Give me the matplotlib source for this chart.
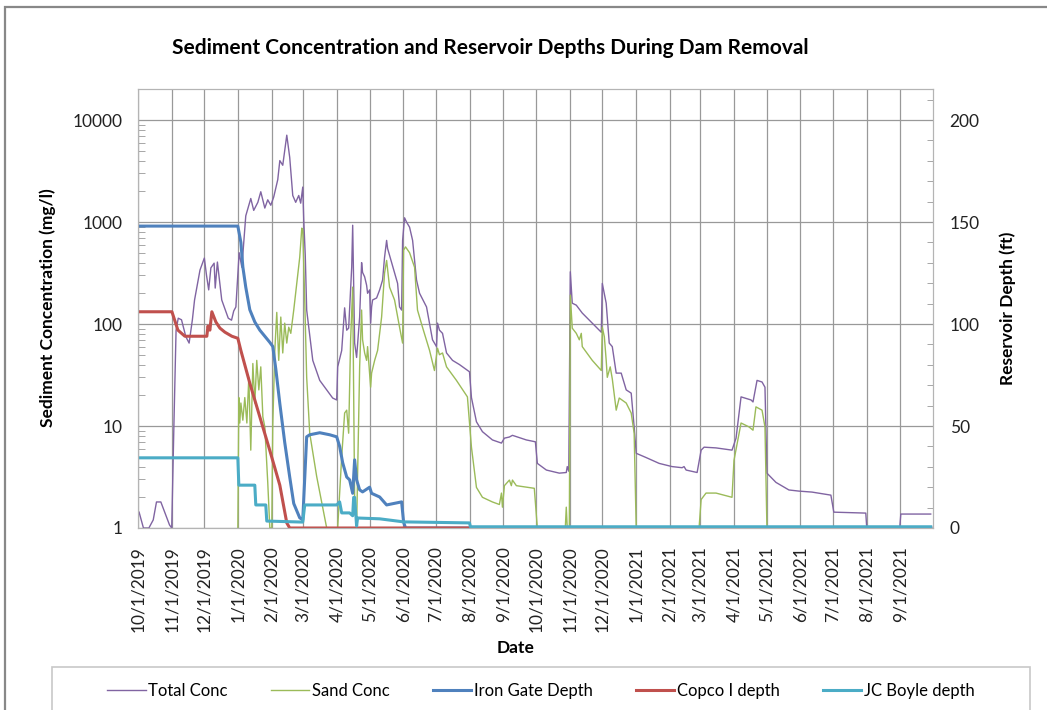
import numpy as np
import pandas as pd
import matplotlib
matplotlib.use('Agg')
import matplotlib.pyplot as plt
from matplotlib.patches import Rectangle
from matplotlib.ticker import FixedLocator, NullFormatter, MultipleLocator

plt.rcParams['font.family'] = ['Lato', 'DejaVu Sans']

# days since 10/1/2019 and values
total_days = [1, 5, 10, 14, 17, 21, 26, 29, 31, 33, 35, 37, 40, 44, 47, 50, 52, 57, 61, 63,
              65, 67, 70, 71, 73, 77, 83, 86, 88, 90, 93, 95.5, 99.1, 103.7, 106.4, 110.2,
              112.9, 116.6, 119.3, 122.1, 124.8, 128.5, 130.4, 133.1, 136.8, 139.5, 142.3,
              145, 147.8, 149.6, 151.5, 152.4, 153.8, 155.1, 160.7, 167.1, 173.5, 179,
              182.7, 183.6, 187.3, 190, 191.9, 193.7, 196.5, 197.4, 199.2, 201, 203.8, 205.6,
              206.5, 208.4, 210.2, 211.1, 213, 213.9, 214.8, 215.7, 219.4, 222.2, 224.9,
              226.7, 228.6, 229.5, 233.2, 235.9, 238.7, 240.5, 242.4, 243.3, 245.1, 246.9,
              249.7, 252.5, 256.1, 258.9, 265.3, 270.8, 274.5, 275.4, 277.2, 280, 283.7,
              289.2, 295.6, 304.8, 306.6, 311.2, 316.7, 325.9, 334.2, 336.9, 341.5, 344.3,
              357.1, 365.4, 367.2, 375.5, 387.4, 393.8, 394.7, 396.1, 397.5, 399.3, 403,
              408.5, 421.4, 426, 426.9, 430.5, 433.3, 436.1, 439.7, 444.3, 448.9, 453.5,
              456.2, 458.1, 467.3, 479.2, 491.1, 500.3, 502.1, 504, 514.1, 517.8, 520.5,
              531.5, 546.2, 549.9, 554.5, 563.7, 565.5, 569.2, 573.8, 576.5, 578.3, 586.6,
              598.5, 607.7, 619.7, 637.1, 639.8, 669.2, 670.1, 700.4, 701.4, 728.9]
total_conc = [1.43, 1.0, 1.0, 1.2, 1.8, 1.8, 1.3, 1.07, 1.0, 10, 87, 114, 110, 75, 65, 110, 172,
              338, 443, 300, 216, 355, 395, 225, 405, 172, 114, 109, 134, 147, 500, 360, 1150,
              1700, 1300, 1560, 1980, 1370, 1650, 1460, 1760, 2600, 4000, 3600, 7100, 4300,
              1820, 1560, 1820, 1530, 2200, 1050, 470, 137, 44, 28, 22.6, 18.8, 18, 38, 55,
              144, 87, 91, 360, 930, 65, 47, 117, 400, 320, 290, 240, 200, 216, 102, 147, 172,
              180, 216, 270, 450, 660, 550, 400, 315, 250, 147, 137, 660, 1100, 1000, 890,
              660, 270, 200, 147, 70, 60, 102, 87, 81, 52, 44, 40, 34, 19, 11, 8.8, 7.3, 6.8,
              7.6, 7.8, 8.1, 7.3, 7.0, 4.3, 3.7, 3.45, 3.5, 4.0, 3.6, 325, 160, 153, 128, 93,
              83, 250, 160, 65, 60, 33, 33, 22.6, 21, 9.8, 5.4, 4.9, 4.3, 4.0, 3.9, 4.0, 3.7,
              3.5, 5.8, 6.2, 6.1, 5.8, 7.6, 19.3, 18, 17.2, 28, 27, 24, 3.45, 2.8, 2.36, 2.3,
              2.25, 2.1, 1.43, 1.4, 1.0, 1.0, 1.37, 1.37]

sand_days = [91.8, 92.7, 93.6, 94.6, 96.4, 98.2, 100.1, 101.9, 103.7, 105.6, 107.4, 109.2,
             111.1, 112.9, 114.8, 116.6, 119.3, 121.2, 123, 123.9, 125.8, 127.6, 129.4, 131.3,
             133.1, 134.9, 136.8, 138.6, 140.5, 143.2, 146, 148.7, 150.6, 151.5, 153.3, 155.1,
             157.9, 164.3, 173.5, 183.6, 187.3, 190, 191.9, 193.7, 195.5, 197.4, 199.2, 201,
             203.8, 205.6, 206.5, 208.4, 210.2, 211.1, 213.9, 214.8, 217.6, 220.3, 224, 226.7,
             228.6, 231.3, 235.9, 240.5, 243.3, 244.2, 246, 249.7, 254.3, 257, 261.6, 268.1,
             272.6, 275.4, 277.2, 280, 283.7, 292.8, 302.9, 306.6, 311.2, 316.7, 325.9, 332.3,
             334.2, 335.1, 336.9, 341.5, 343.3, 344.3, 347.9, 364.4, 367.2, 392.9, 393.8,
             394.7, 396.6, 397.5, 399.3, 403, 405.8, 407.6, 408.5, 417.7, 426, 426.9, 428.8,
             430.5, 431.5, 434.2, 436.1, 439.7, 442.5, 448.9, 453.5, 456.2, 458.1, 515.9,
             517.8, 522.3, 531.5, 546.2, 548, 554.5, 561.8, 565.5, 568.2, 573.8, 576.5, 578.3,
             728.9]
sand_conc = [1.0, 19, 10.7, 16.8, 11.4, 19, 10.7, 30, 5.8, 41, 16.8, 44, 22.6, 38, 12.3, 9.8,
             2.8, 1.0, 1.0, 10, 55, 130, 44, 117, 52, 102, 65, 93, 81, 137, 250, 450, 870, 840,
             172, 30, 8.5, 3.2, 1.0, 1.0, 5.0, 13.4, 14.3, 8.5, 70, 230, 1.9, 1.0, 38, 137, 70,
             52, 44, 60, 24, 33, 44, 55, 117, 315, 420, 230, 172, 93, 65, 530, 570, 500, 360,
             137, 93, 55, 35, 58, 50, 52, 38, 28, 19.3, 6.2, 2.5, 2.0, 1.8, 1.7, 2.2, 1.6, 2.6,
             2.95, 2.6, 2.95, 2.6, 2.45, 1.0, 1.0, 1.6, 1.0, 1.0, 192, 91, 81, 70, 81, 60, 44,
             35, 93, 75, 44, 30, 38, 29, 14.3, 18.8, 16.8, 13.4, 8.5, 1.0, 1.0, 1.9, 2.2, 2.2,
             2.0, 4.6, 10.7, 9.8, 9.1, 15.4, 14.3, 9.8, 1.0, 1.0]

iron_days = [0, 91.8, 94.6, 96.4, 99.1, 102.8, 107.4, 112, 116.6, 121.2, 123.9, 126.7, 130.4,
             134.9, 139.5, 143.2, 148.7, 151.5, 155.1, 157.9, 167.1, 176.3, 182.7, 185.4,
             188.2, 191.9, 194.6, 197.4, 199.2, 201, 203.8, 206.5, 213, 214.8, 222.2, 228.6,
             242.4, 244.2, 246, 728.9]
iron_depth = [148, 148, 140, 128, 118, 107, 101, 97, 94, 91, 89, 78, 61, 42, 25, 12, 5, 4,
              44.7, 45.7, 46.7, 45.7, 44.7, 40, 32, 25, 23.6, 17, 33.4, 23.6, 18.7, 17.7, 20,
              17, 15.2, 11.3, 12.8, 2.9, 0, 0]

copco_days = [0, 31.2, 36.7, 43.1, 63.3, 64.3, 66.1, 67.9, 71.6, 75.3, 79.9, 86.3, 91.8, 94.6,
              102.8, 112, 121.2, 130.4, 136.8, 139.5, 728.9]
copco_depth = [106, 106, 97, 94, 94, 99, 97, 106, 101, 98, 96, 94, 93, 87, 71, 54.5, 38, 21,
               2.5, 0, 0]

jcb_days = [0, 91.8, 92.7, 107.4, 108.3, 117.5, 118.4, 151.5, 153.3, 182.7, 185.4, 187.3,
            194.6, 197.4, 198.3, 199.2, 201, 201.9, 222.2, 244.2, 304.8, 305.7, 728.9]
jcb_depth = [34.4, 34.4, 21, 21, 11.3, 11.3, 3.4, 2.9, 11.3, 11.3, 12.8, 7.4, 7.4, 6, 15, 15,
             1, 4.9, 4.5, 3, 2.5, 0.6, 0.6]

start = pd.Timestamp('2019-10-01')
month_ticks = pd.date_range('2019-10-01', '2021-09-01', freq='MS')
month_labels = [f'{d.month}/{d.day}/{d.year}' for d in month_ticks]


def to_dates(days):
    return start + pd.to_timedelta(np.array(days, dtype=float), unit='D')


W, H = 1047, 710
fig = plt.figure(figsize=(W / 100, H / 100), dpi=100)
ax = fig.add_axes([138 / W, 1 - 528 / H, (933 - 138) / W, (528 - 89) / H])
ax2 = ax.twinx()

purple, green = '#8064A2', '#9BBB59'
blue, red, cyan = '#4F81BD', '#C0504D', '#4BACC6'

l1, = ax.plot(to_dates(total_days), total_conc, color=purple, lw=1.0, label='Total Conc')
l2, = ax.plot(to_dates(sand_days), sand_conc, color=green, lw=1.0, label='Sand Conc')
l3, = ax2.plot(to_dates(iron_days), iron_depth, color=blue, lw=2.2, label='Iron Gate Depth')
l4, = ax2.plot(to_dates(copco_days), copco_depth, color=red, lw=2.2, label='Copco I depth')
l5, = ax2.plot(to_dates(jcb_days), jcb_depth, color=cyan, lw=2.2, label='JC Boyle depth')

ax.set_yscale('log')
ax.set_ylim(1, 10 ** 4.304)
ax2.set_ylim(0, 215.2)
ax.set_xlim(start, pd.Timestamp('2021-10-01'))

ax.yaxis.set_major_locator(FixedLocator([1, 10, 100, 1000, 10000]))
ax.set_yticklabels(['1', '10', '100', '1000', '10000'])
minors = [m * 10 ** e for e in range(0, 5) for m in range(2, 10)]
ax.yaxis.set_minor_locator(FixedLocator(minors))
ax.yaxis.set_minor_formatter(NullFormatter())
ax2.yaxis.set_major_locator(FixedLocator([0, 50, 100, 150, 200]))
ax2.yaxis.set_minor_locator(MultipleLocator(10))

ax.set_xticks(month_ticks)
ax.set_xticklabels(month_labels, rotation=90)
ax.xaxis.set_minor_locator(FixedLocator([]))

ax.tick_params(axis='both', which='major', length=0, labelsize=12.5, colors='#222222')
ax.tick_params(axis='y', which='major', pad=11)
ax.tick_params(axis='x', which='major', pad=13)
ax.tick_params(axis='y', which='minor', direction='in', length=5, color='#999999')
ax2.tick_params(axis='y', which='major', length=0, labelsize=12.5, pad=12, colors='#222222')
ax2.tick_params(axis='y', which='minor', direction='in', length=4, color='#999999')

ax.grid(True, which='major', color='#999999', lw=0.9)
ax.set_axisbelow(True)
for a in (ax, ax2):
    for s in a.spines.values():
        s.set_color('#b4b4b4')

fig.text(490 / W, 1 - 48 / H, 'Sediment Concentration and Reservoir Depths During Dam Removal',
         ha='center', va='center', fontsize=15, fontweight='bold')
fig.text(48 / W, 1 - 308 / H, 'Sediment Concentration (mg/l)', rotation=90,
         ha='center', va='center', fontsize=12.5, fontweight='bold')
fig.text(1008 / W, 1 - 308 / H, 'Reservoir Depth (ft)', rotation=90,
         ha='center', va='center', fontsize=12.5, fontweight='bold')
fig.text(516 / W, 1 - 648 / H, 'Date', ha='center', va='center', fontsize=12.5,
         fontweight='bold')

fig.legend([l1, l2, l3, l4, l5], [l.get_label() for l in (l1, l2, l3, l4, l5)],
           loc='center', bbox_to_anchor=(541 / W, 1 - 691 / H), ncol=5, frameon=False,
           fontsize=12, handlelength=2.3, handletextpad=0.15, columnspacing=2.6)

fig.patches.append(Rectangle((52 / W, -0.05), (1030 - 52) / W, 0.05 + 1 - 667 / H,
                             transform=fig.transFigure, fill=False, edgecolor='#c8c8c8',
                             lw=1.2))
fig.patches.append(Rectangle((5 / W, -0.05), 1.2, 0.05 + 1 - 6.5 / H,
                             transform=fig.transFigure, fill=False, edgecolor='#888888',
                             lw=1.6))

fig.savefig('out.png', dpi=100)
